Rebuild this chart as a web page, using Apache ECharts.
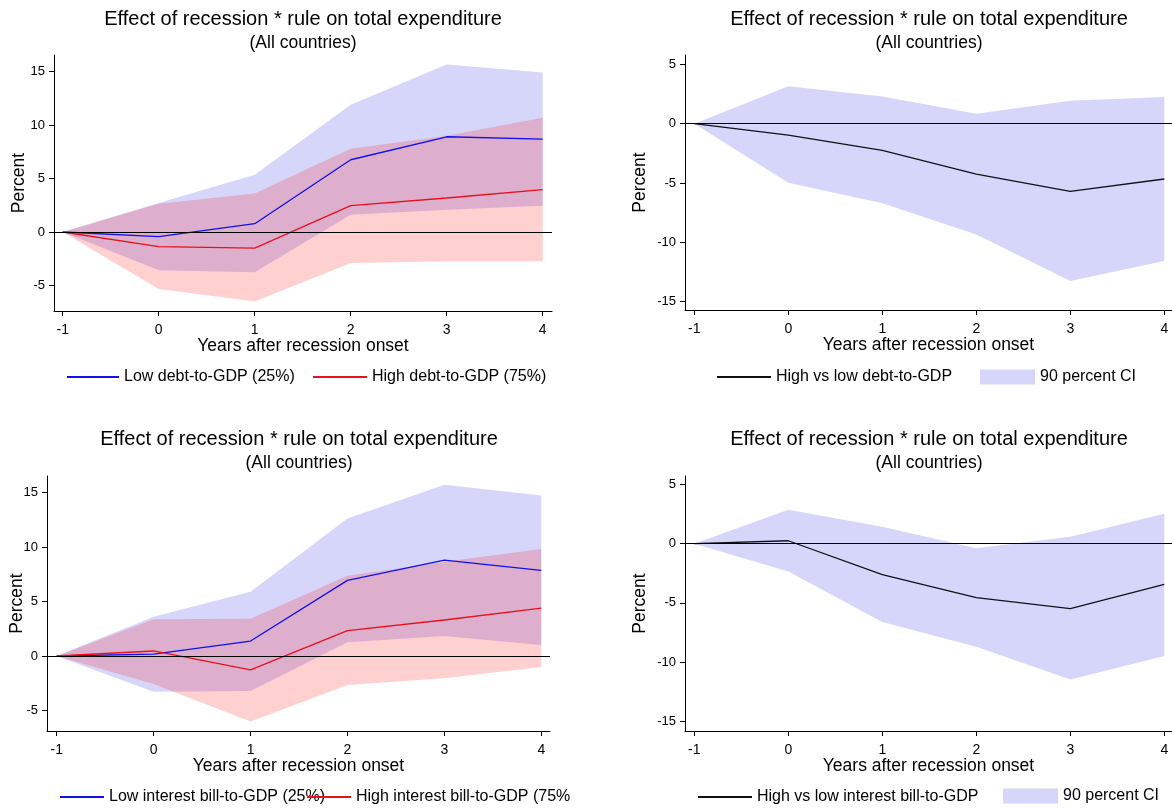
<!DOCTYPE html>
<html><head><meta charset="utf-8">
<script src="https://cdn.jsdelivr.net/npm/echarts@6/dist/echarts.min.js"></script>
<style>html,body{margin:0;padding:0;background:#fff}#c{width:1172px;height:809px}</style>
</head><body><div id="c"></div>
<script>
// ---- data ----
const years = [-1, 0, 1, 2, 3, 4];
const yTicksLeft = [-5, 0, 5, 10, 15];
const yTicksRight = [-15, -10, -5, 0, 5];
const titleText = 'Effect of recession * rule on total expenditure';
const subText = '(All countries)';
const xName = 'Years after recession onset';
const yName = 'Percent';
// Panel 1: debt-to-GDP
const p1LowDebt = [0, -0.44, 0.78, 6.76, 8.91, 8.69];
const p1LowDebtUpper = [0, 2.71, 5.36, 11.9, 15.67, 14.92];
const p1LowDebtLower = [0, -3.58, -3.77, 1.62, 2.09, 2.46];
const p1HighDebt = [0, -1.37, -1.50, 2.46, 3.18, 3.96];
const p1HighDebtUpper = [0, 2.65, 3.61, 7.79, 9.0, 10.69];
const p1HighDebtLower = [0, -5.33, -6.51, -2.90, -2.74, -2.74];
// Panel 2: high vs low debt
const p2Diff = [0, -0.96, -2.25, -4.24, -5.70, -4.66];
const p2Upper = [0, 3.15, 2.30, 0.84, 1.94, 2.25];
const p2Lower = [0, -4.97, -6.71, -9.33, -13.26, -11.57];
// Panel 3: interest bill-to-GDP
const p3LowBill = [0, 0.18, 1.37, 6.94, 8.80, 7.85];
const p3LowBillUpper = [0, 3.61, 5.90, 12.62, 15.70, 14.73];
const p3LowBillLower = [0, -3.27, -3.21, 1.25, 1.83, 1.01];
const p3HighBill = [0, 0.46, -1.28, 2.32, 3.30, 4.40];
const p3HighBillUpper = [0, 3.36, 3.42, 7.36, 8.65, 9.81];
const p3HighBillLower = [0, -2.57, -6.02, -2.66, -2.05, -1.01];
// Panel 4: high vs low interest bill
const p4Diff = [0, 0.25, -2.62, -4.56, -5.49, -3.43];
const p4Upper = [0, 2.87, 1.44, -0.39, 0.59, 2.53];
const p4Lower = [0, -2.34, -6.61, -8.70, -11.48, -9.48];

// ---- styling ----
const FF = 'Liberation Sans, Arial, Helvetica, sans-serif';
const BLUE = '#1010ee';
const RED = '#e8101c';
const DARK = '#111118';
const BAND_BLUE = '#d6d6fa';
const BAND_RED = 'rgba(255,20,20,0.2)';

const grids = [
  {left: 54, top: 55, width: 498, height: 256},
  {left: 685, top: 55, width: 487, height: 255},
  {left: 47, top: 476, width: 503, height: 255},
  {left: 685, top: 476, width: 487, height: 255}
];
const xRanges = [[-1.091, 4.097], [-1.099, 4.082], [-1.10, 4.09], [-1.099, 4.082]];
const yRanges = [[-7.39, 16.56], [-15.70, 5.79], [-6.88, 16.51], [-15.82, 5.72]];
const yTicks = [yTicksLeft, yTicksRight, yTicksLeft, yTicksRight];
const yNameGaps = [26, 36, 21, 36];
const titleCenters = [[303, 9], [929, 9], [299, 429], [929, 429]];

function xAx(gi) {
  return {
    type: 'value', gridIndex: gi, min: xRanges[gi][0], max: xRanges[gi][1],
    name: xName, nameLocation: 'middle', nameGap: 26, nameMoveOverlap: false,
    nameTextStyle: {fontSize: 17.5, color: '#000', fontFamily: FF},
    axisLine: {onZero: false, lineStyle: {color: '#000', width: 1}},
    axisTick: {show: true, length: 5, customValues: years, lineStyle: {color: '#000'}},
    axisLabel: {customValues: years, fontSize: 14, color: '#000', margin: 12, fontFamily: FF},
    splitLine: {show: false}
  };
}
function yAx(gi) {
  return {
    type: 'value', gridIndex: gi, min: yRanges[gi][0], max: yRanges[gi][1],
    name: yName, nameLocation: 'middle', nameGap: yNameGaps[gi], nameRotate: 90,
    nameMoveOverlap: false,
    nameTextStyle: {fontSize: 17.5, color: '#000', fontFamily: FF},
    axisLine: {show: true, onZero: false, lineStyle: {color: '#000', width: 1}},
    axisTick: {show: true, length: 5, customValues: yTicks[gi], lineStyle: {color: '#000'}},
    axisLabel: {customValues: yTicks[gi], fontSize: 13, color: '#000', margin: 9, fontFamily: FF},
    splitLine: {show: false}
  };
}
function band(name, gi, lo, hi, color) {
  return {
    type: 'custom', name: name, xAxisIndex: gi, yAxisIndex: gi,
    data: years.map((x, i) => [x, lo[i], hi[i]]),
    encode: {x: 0, y: [1, 2]},
    itemStyle: {color: color}, silent: true, clip: false,
    renderItem: function (params, api) {
      if (params.dataIndex !== 0) return null;
      const pts = [];
      for (let i = 0; i < years.length; i++) pts.push(api.coord([years[i], hi[i]]));
      for (let i = years.length - 1; i >= 0; i--) pts.push(api.coord([years[i], lo[i]]));
      return {type: 'polygon', shape: {points: pts}, style: {fill: color}};
    }
  };
}
function line(name, gi, vals, color, zero) {
  const s = {
    type: 'line', name: name, xAxisIndex: gi, yAxisIndex: gi,
    data: years.map((x, i) => [x, vals[i]]),
    symbol: 'none', silent: true,
    lineStyle: {color: color, width: 1.3}, itemStyle: {color: color}
  };
  if (zero) {
    s.markLine = {
      silent: true, symbol: ['none', 'none'], label: {show: false},
      lineStyle: {color: '#000', width: 1, type: 'solid'},
      data: [{yAxis: 0}]
    };
  }
  return s;
}
function title(i) {
  return {
    text: titleText, subtext: subText, left: titleCenters[i][0], top: titleCenters[i][1],
    textAlign: 'center', itemGap: 5, padding: 0,
    textStyle: {fontSize: 20, fontWeight: 'normal', color: '#000', fontFamily: FF},
    subtextStyle: {fontSize: 17.5, color: '#000', fontFamily: FF}
  };
}
const legTS = {fontSize: 16, color: '#000', fontFamily: FF};
function lineLeg(name, left, top, w, extraTS) {
  return {data: [name], left: left, top: top, itemWidth: w, itemHeight: 1.5, padding: 0,
    selectedMode: false, textStyle: Object.assign({}, legTS, extraTS || {})};
}
function ciLeg(left, top) {
  return {data: [{name: '90 percent CI', icon: 'rect', itemStyle: {color: BAND_BLUE}}],
    left: left, top: top, itemWidth: 55, itemHeight: 15, padding: 0,
    selectedMode: false, textStyle: legTS};
}

const option = {
  animation: false,
  backgroundColor: '#fff',
  textStyle: {fontFamily: FF},
  title: [title(0), title(1), title(2), title(3)],
  grid: grids,
  xAxis: [xAx(0), xAx(1), xAx(2), xAx(3)],
  yAxis: [yAx(0), yAx(1), yAx(2), yAx(3)],
  legend: [
    lineLeg('Low debt-to-GDP (25%)', 66, 369, 52),
    lineLeg('High debt-to-GDP (75%)', 312, 369, 54),
    lineLeg('High vs low debt-to-GDP', 716, 369, 54),
    ciLeg(980, 369),
    lineLeg('Low interest bill-to-GDP (25%)', 59, 789, 44),
    lineLeg('High interest bill-to-GDP (75%)', 306, 789, 44, {width: 216, overflow: 'truncate', ellipsis: ''}),
    lineLeg('High vs low interest bill-to-GDP', 697, 789, 54),
    ciLeg(1003, 788)
  ],
  series: [
    band('p1 low band', 0, p1LowDebtLower, p1LowDebtUpper, BAND_BLUE),
    band('p1 high band', 0, p1HighDebtLower, p1HighDebtUpper, BAND_RED),
    line('Low debt-to-GDP (25%)', 0, p1LowDebt, BLUE, true),
    line('High debt-to-GDP (75%)', 0, p1HighDebt, RED, false),

    band('90 percent CI', 1, p2Lower, p2Upper, BAND_BLUE),
    line('High vs low debt-to-GDP', 1, p2Diff, DARK, true),

    band('p3 low band', 2, p3LowBillLower, p3LowBillUpper, BAND_BLUE),
    band('p3 high band', 2, p3HighBillLower, p3HighBillUpper, BAND_RED),
    line('Low interest bill-to-GDP (25%)', 2, p3LowBill, BLUE, true),
    line('High interest bill-to-GDP (75%)', 2, p3HighBill, RED, false),

    band('90 percent CI', 3, p4Lower, p4Upper, BAND_BLUE),
    line('High vs low interest bill-to-GDP', 3, p4Diff, DARK, true)
  ]
};
const chart = echarts.init(document.getElementById('c'), null, {renderer: 'canvas'});
chart.setOption(option);
</script>
</body></html>
